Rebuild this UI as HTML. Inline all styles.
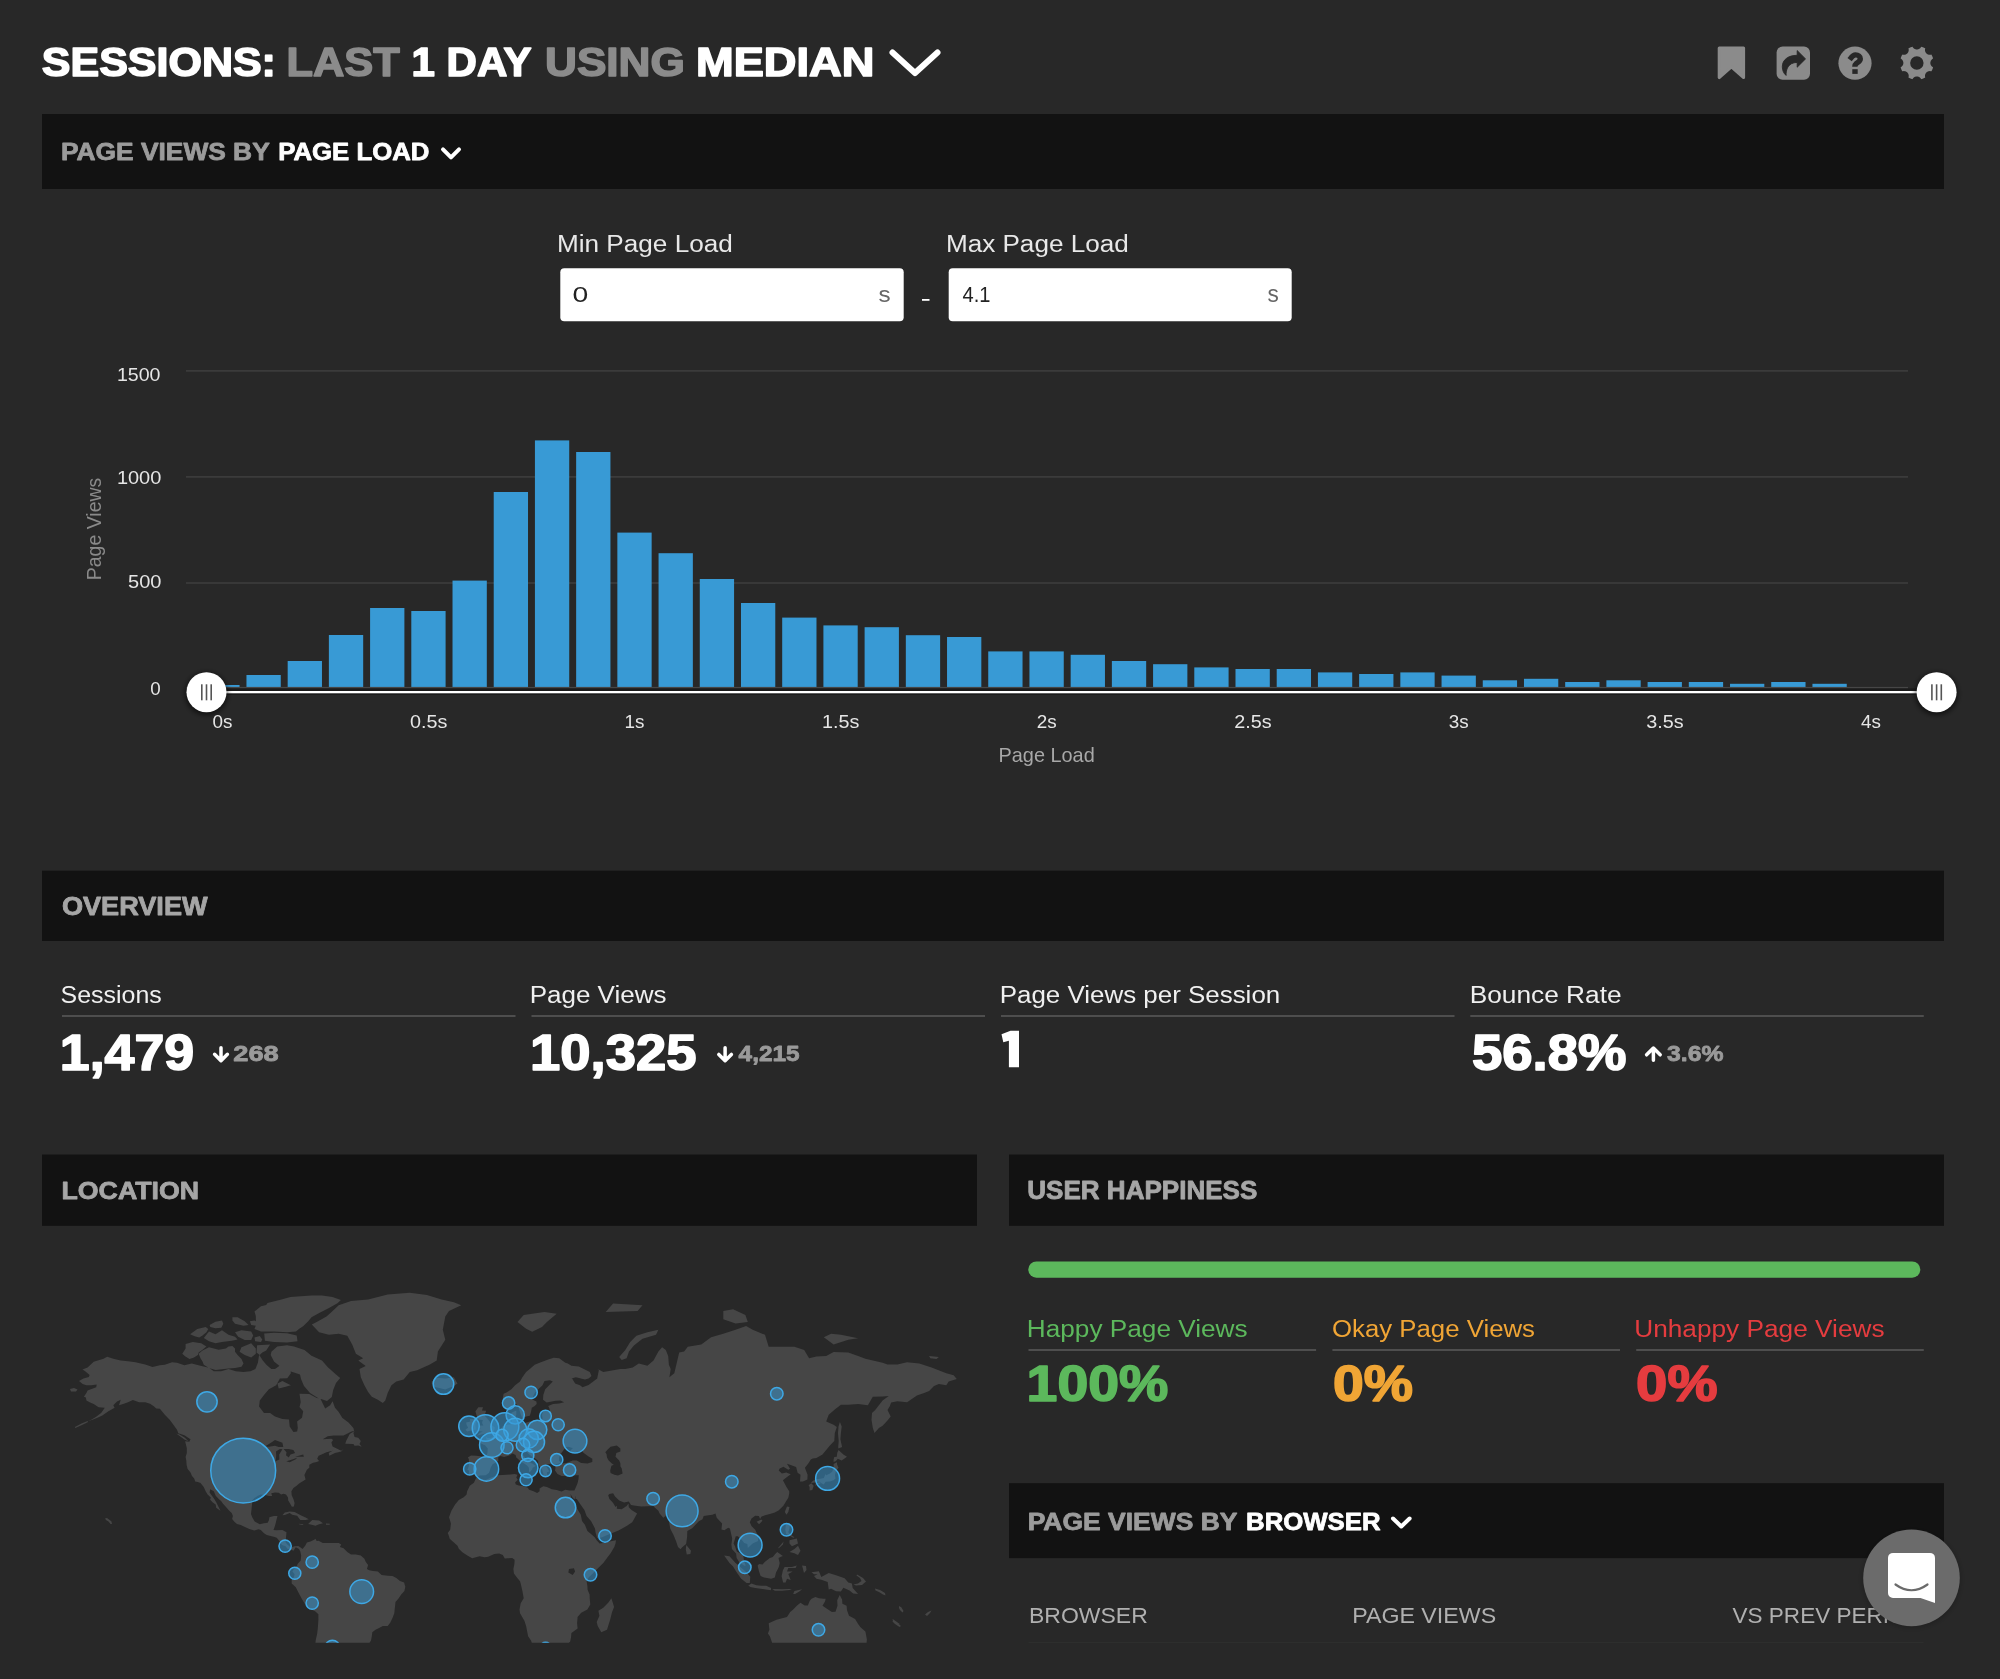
<!DOCTYPE html>
<html><head><meta charset="utf-8"><title>Sessions</title>
<style>
html,body{margin:0;padding:0;background:#282828;width:2000px;height:1679px;overflow:hidden;}
svg{display:block;will-change:transform;font-family:"Liberation Sans",sans-serif;}
</style></head><body>
<svg width="2000" height="1679" viewBox="0 0 2000 1679">
<defs>
<filter id="blur" x="-50%" y="-50%" width="200%" height="200%"><feGaussianBlur stdDeviation="2.5"/></filter>
<filter id="blur2" x="-50%" y="-50%" width="200%" height="200%"><feGaussianBlur stdDeviation="3"/></filter>
</defs>
<rect width="2000" height="1679" fill="#282828"/>
<polyline points="892.5,52.5 915,73 937.5,52.5" fill="none" stroke="#fff" stroke-width="6" stroke-linecap="round" stroke-linejoin="round"/>
<path d="M1719.2,47.9 H1743.6 V77.6 L1731.4,66.8 L1719.2,77.6 Z" fill="#8b8b8b" stroke="#8b8b8b" stroke-width="3" stroke-linejoin="round"/>
<rect x="1776.6" y="46.4" width="33.4" height="33.4" rx="6" fill="#8b8b8b"/>
<path d="M1805.5,58.9 L1797.2,50.6 L1797.2,55.3 C1788,55.3 1782.3,60 1782.3,66.8 C1782.3,70.3 1783.8,73.6 1786.1,75.4 C1785.8,70 1787.8,62.5 1797.2,62.4 L1797.2,67.2 Z" fill="#282828" stroke="#282828" stroke-width="0.9" stroke-linejoin="round"/>
<circle cx="1855" cy="63.2" r="16.6" fill="#8b8b8b"/>
<path d="M1849.6,59.7 C1851.2,57.6 1852.6,54.9 1855.6,54.9 C1858.4,54.9 1860.3,56.5 1860.3,58.7 C1860.3,61.3 1857.8,62.2 1856.3,63.5 C1855.3,64.4 1854.9,65.3 1854.9,66.2 V66.8" fill="none" stroke="#282828" stroke-width="5.4" stroke-linecap="butt" stroke-linejoin="round"/>
<rect x="1852.3" y="69.2" width="5.4" height="4.7" fill="#282828"/>
<path d="M1930.35,62.95 L1930.35,63.07 L1930.36,63.19 L1930.36,63.30 L1930.37,63.42 L1930.39,63.54 L1930.40,63.66 L1930.42,63.78 L1930.45,63.90 L1930.47,64.02 L1930.50,64.14 L1930.53,64.27 L1930.57,64.39 L1930.61,64.52 L1930.66,64.65 L1930.71,64.77 L1930.77,64.91 L1930.83,65.04 L1930.90,65.17 L1930.97,65.31 L1931.06,65.45 L1931.15,65.60 L1931.25,65.75 L1931.37,65.90 L1931.50,66.06 L1931.65,66.23 L1931.82,66.41 L1932.02,66.59 L1932.28,66.80 L1932.62,67.03 L1933.08,67.30 L1933.04,67.44 L1933.00,67.58 L1932.96,67.72 L1932.92,67.86 L1932.87,68.00 L1932.83,68.14 L1932.78,68.28 L1932.73,68.42 L1932.69,68.56 L1932.64,68.70 L1932.59,68.83 L1932.53,68.97 L1932.48,69.11 L1932.43,69.24 L1932.37,69.38 L1932.31,69.51 L1932.26,69.65 L1932.20,69.78 L1932.14,69.92 L1932.08,70.05 L1932.01,70.18 L1931.95,70.31 L1931.88,70.45 L1931.82,70.58 L1931.75,70.71 L1931.68,70.84 L1931.61,70.97 L1931.54,71.09 L1931.47,71.22 L1931.40,71.35 L1930.88,71.22 L1930.48,71.14 L1930.16,71.10 L1929.88,71.09 L1929.63,71.09 L1929.41,71.11 L1929.20,71.13 L1929.01,71.15 L1928.83,71.19 L1928.67,71.22 L1928.51,71.26 L1928.36,71.31 L1928.21,71.36 L1928.07,71.41 L1927.94,71.46 L1927.81,71.52 L1927.69,71.57 L1927.57,71.63 L1927.46,71.69 L1927.35,71.76 L1927.24,71.82 L1927.14,71.89 L1927.03,71.96 L1926.94,72.03 L1926.84,72.10 L1926.75,72.18 L1926.66,72.25 L1926.57,72.33 L1926.48,72.41 L1926.40,72.50 L1926.31,72.58 L1926.23,72.67 L1926.15,72.76 L1926.08,72.85 L1926.00,72.94 L1925.93,73.04 L1925.86,73.13 L1925.79,73.24 L1925.72,73.34 L1925.66,73.45 L1925.59,73.56 L1925.53,73.67 L1925.47,73.79 L1925.42,73.91 L1925.36,74.04 L1925.31,74.17 L1925.26,74.31 L1925.21,74.46 L1925.16,74.61 L1925.12,74.77 L1925.09,74.93 L1925.05,75.11 L1925.03,75.30 L1925.01,75.51 L1924.99,75.73 L1924.99,75.98 L1925.00,76.26 L1925.04,76.58 L1925.12,76.98 L1925.25,77.50 L1925.12,77.57 L1924.99,77.64 L1924.87,77.71 L1924.74,77.78 L1924.61,77.85 L1924.48,77.92 L1924.35,77.98 L1924.21,78.05 L1924.08,78.11 L1923.95,78.18 L1923.82,78.24 L1923.68,78.30 L1923.55,78.36 L1923.41,78.41 L1923.28,78.47 L1923.14,78.53 L1923.01,78.58 L1922.87,78.63 L1922.73,78.69 L1922.60,78.74 L1922.46,78.79 L1922.32,78.83 L1922.18,78.88 L1922.04,78.93 L1921.90,78.97 L1921.76,79.02 L1921.62,79.06 L1921.48,79.10 L1921.34,79.14 L1921.20,79.18 L1920.93,78.72 L1920.70,78.38 L1920.49,78.12 L1920.31,77.92 L1920.13,77.75 L1919.96,77.60 L1919.80,77.47 L1919.65,77.35 L1919.50,77.25 L1919.35,77.16 L1919.21,77.07 L1919.07,77.00 L1918.94,76.93 L1918.81,76.87 L1918.67,76.81 L1918.55,76.76 L1918.42,76.71 L1918.29,76.67 L1918.17,76.63 L1918.04,76.60 L1917.92,76.57 L1917.80,76.55 L1917.68,76.52 L1917.56,76.50 L1917.44,76.49 L1917.32,76.47 L1917.20,76.46 L1917.09,76.46 L1916.97,76.45 L1916.85,76.45 L1916.73,76.45 L1916.61,76.46 L1916.50,76.46 L1916.38,76.47 L1916.26,76.49 L1916.14,76.50 L1916.02,76.52 L1915.90,76.55 L1915.78,76.57 L1915.66,76.60 L1915.53,76.63 L1915.41,76.67 L1915.28,76.71 L1915.15,76.76 L1915.03,76.81 L1914.89,76.87 L1914.76,76.93 L1914.63,77.00 L1914.49,77.07 L1914.35,77.16 L1914.20,77.25 L1914.05,77.35 L1913.90,77.47 L1913.74,77.60 L1913.57,77.75 L1913.39,77.92 L1913.21,78.12 L1913.00,78.38 L1912.77,78.72 L1912.50,79.18 L1912.36,79.14 L1912.22,79.10 L1912.08,79.06 L1911.94,79.02 L1911.80,78.97 L1911.66,78.93 L1911.52,78.88 L1911.38,78.83 L1911.24,78.79 L1911.10,78.74 L1910.97,78.69 L1910.83,78.63 L1910.69,78.58 L1910.56,78.53 L1910.42,78.47 L1910.29,78.41 L1910.15,78.36 L1910.02,78.30 L1909.88,78.24 L1909.75,78.18 L1909.62,78.11 L1909.49,78.05 L1909.35,77.98 L1909.22,77.92 L1909.09,77.85 L1908.96,77.78 L1908.83,77.71 L1908.71,77.64 L1908.58,77.57 L1908.45,77.50 L1908.58,76.98 L1908.66,76.58 L1908.70,76.26 L1908.71,75.98 L1908.71,75.73 L1908.69,75.51 L1908.67,75.30 L1908.65,75.11 L1908.61,74.93 L1908.58,74.77 L1908.54,74.61 L1908.49,74.46 L1908.44,74.31 L1908.39,74.17 L1908.34,74.04 L1908.28,73.91 L1908.23,73.79 L1908.17,73.67 L1908.11,73.56 L1908.04,73.45 L1907.98,73.34 L1907.91,73.24 L1907.84,73.13 L1907.77,73.04 L1907.70,72.94 L1907.62,72.85 L1907.55,72.76 L1907.47,72.67 L1907.39,72.58 L1907.30,72.50 L1907.22,72.41 L1907.13,72.33 L1907.04,72.25 L1906.95,72.18 L1906.86,72.10 L1906.76,72.03 L1906.67,71.96 L1906.56,71.89 L1906.46,71.82 L1906.35,71.76 L1906.24,71.69 L1906.13,71.63 L1906.01,71.57 L1905.89,71.52 L1905.76,71.46 L1905.63,71.41 L1905.49,71.36 L1905.34,71.31 L1905.19,71.26 L1905.03,71.22 L1904.87,71.19 L1904.69,71.15 L1904.50,71.13 L1904.29,71.11 L1904.07,71.09 L1903.82,71.09 L1903.54,71.10 L1903.22,71.14 L1902.82,71.22 L1902.30,71.35 L1902.23,71.22 L1902.16,71.09 L1902.09,70.97 L1902.02,70.84 L1901.95,70.71 L1901.88,70.58 L1901.82,70.45 L1901.75,70.31 L1901.69,70.18 L1901.62,70.05 L1901.56,69.92 L1901.50,69.78 L1901.44,69.65 L1901.39,69.51 L1901.33,69.38 L1901.27,69.24 L1901.22,69.11 L1901.17,68.97 L1901.11,68.83 L1901.06,68.70 L1901.01,68.56 L1900.97,68.42 L1900.92,68.28 L1900.87,68.14 L1900.83,68.00 L1900.78,67.86 L1900.74,67.72 L1900.70,67.58 L1900.66,67.44 L1900.62,67.30 L1901.08,67.03 L1901.42,66.80 L1901.68,66.59 L1901.88,66.41 L1902.05,66.23 L1902.20,66.06 L1902.33,65.90 L1902.45,65.75 L1902.55,65.60 L1902.64,65.45 L1902.73,65.31 L1902.80,65.17 L1902.87,65.04 L1902.93,64.91 L1902.99,64.77 L1903.04,64.65 L1903.09,64.52 L1903.13,64.39 L1903.17,64.27 L1903.20,64.14 L1903.23,64.02 L1903.25,63.90 L1903.28,63.78 L1903.30,63.66 L1903.31,63.54 L1903.33,63.42 L1903.34,63.30 L1903.34,63.19 L1903.35,63.07 L1903.35,62.95 L1903.35,62.83 L1903.34,62.71 L1903.34,62.60 L1903.33,62.48 L1903.31,62.36 L1903.30,62.24 L1903.28,62.12 L1903.25,62.00 L1903.23,61.88 L1903.20,61.76 L1903.17,61.63 L1903.13,61.51 L1903.09,61.38 L1903.04,61.25 L1902.99,61.13 L1902.93,60.99 L1902.87,60.86 L1902.80,60.73 L1902.73,60.59 L1902.64,60.45 L1902.55,60.30 L1902.45,60.15 L1902.33,60.00 L1902.20,59.84 L1902.05,59.67 L1901.88,59.49 L1901.68,59.31 L1901.42,59.10 L1901.08,58.87 L1900.62,58.60 L1900.66,58.46 L1900.70,58.32 L1900.74,58.18 L1900.78,58.04 L1900.83,57.90 L1900.87,57.76 L1900.92,57.62 L1900.97,57.48 L1901.01,57.34 L1901.06,57.20 L1901.11,57.07 L1901.17,56.93 L1901.22,56.79 L1901.27,56.66 L1901.33,56.52 L1901.39,56.39 L1901.44,56.25 L1901.50,56.12 L1901.56,55.98 L1901.62,55.85 L1901.69,55.72 L1901.75,55.59 L1901.82,55.45 L1901.88,55.32 L1901.95,55.19 L1902.02,55.06 L1902.09,54.93 L1902.16,54.81 L1902.23,54.68 L1902.30,54.55 L1902.82,54.68 L1903.22,54.76 L1903.54,54.80 L1903.82,54.81 L1904.07,54.81 L1904.29,54.79 L1904.50,54.77 L1904.69,54.75 L1904.87,54.71 L1905.03,54.68 L1905.19,54.64 L1905.34,54.59 L1905.49,54.54 L1905.63,54.49 L1905.76,54.44 L1905.89,54.38 L1906.01,54.33 L1906.13,54.27 L1906.24,54.21 L1906.35,54.14 L1906.46,54.08 L1906.56,54.01 L1906.67,53.94 L1906.76,53.87 L1906.86,53.80 L1906.95,53.72 L1907.04,53.65 L1907.13,53.57 L1907.22,53.49 L1907.30,53.40 L1907.39,53.32 L1907.47,53.23 L1907.55,53.14 L1907.62,53.05 L1907.70,52.96 L1907.77,52.86 L1907.84,52.77 L1907.91,52.66 L1907.98,52.56 L1908.04,52.45 L1908.11,52.34 L1908.17,52.23 L1908.23,52.11 L1908.28,51.99 L1908.34,51.86 L1908.39,51.73 L1908.44,51.59 L1908.49,51.44 L1908.54,51.29 L1908.58,51.13 L1908.61,50.97 L1908.65,50.79 L1908.67,50.60 L1908.69,50.39 L1908.71,50.17 L1908.71,49.92 L1908.70,49.64 L1908.66,49.32 L1908.58,48.92 L1908.45,48.40 L1908.58,48.33 L1908.71,48.26 L1908.83,48.19 L1908.96,48.12 L1909.09,48.05 L1909.22,47.98 L1909.35,47.92 L1909.49,47.85 L1909.62,47.79 L1909.75,47.72 L1909.88,47.66 L1910.02,47.60 L1910.15,47.54 L1910.29,47.49 L1910.42,47.43 L1910.56,47.37 L1910.69,47.32 L1910.83,47.27 L1910.97,47.21 L1911.10,47.16 L1911.24,47.11 L1911.38,47.07 L1911.52,47.02 L1911.66,46.97 L1911.80,46.93 L1911.94,46.88 L1912.08,46.84 L1912.22,46.80 L1912.36,46.76 L1912.50,46.72 L1912.77,47.18 L1913.00,47.52 L1913.21,47.78 L1913.39,47.98 L1913.57,48.15 L1913.74,48.30 L1913.90,48.43 L1914.05,48.55 L1914.20,48.65 L1914.35,48.74 L1914.49,48.83 L1914.63,48.90 L1914.76,48.97 L1914.89,49.03 L1915.03,49.09 L1915.15,49.14 L1915.28,49.19 L1915.41,49.23 L1915.53,49.27 L1915.66,49.30 L1915.78,49.33 L1915.90,49.35 L1916.02,49.38 L1916.14,49.40 L1916.26,49.41 L1916.38,49.43 L1916.50,49.44 L1916.61,49.44 L1916.73,49.45 L1916.85,49.45 L1916.97,49.45 L1917.09,49.44 L1917.20,49.44 L1917.32,49.43 L1917.44,49.41 L1917.56,49.40 L1917.68,49.38 L1917.80,49.35 L1917.92,49.33 L1918.04,49.30 L1918.17,49.27 L1918.29,49.23 L1918.42,49.19 L1918.55,49.14 L1918.67,49.09 L1918.81,49.03 L1918.94,48.97 L1919.07,48.90 L1919.21,48.83 L1919.35,48.74 L1919.50,48.65 L1919.65,48.55 L1919.80,48.43 L1919.96,48.30 L1920.13,48.15 L1920.31,47.98 L1920.49,47.78 L1920.70,47.52 L1920.93,47.18 L1921.20,46.72 L1921.34,46.76 L1921.48,46.80 L1921.62,46.84 L1921.76,46.88 L1921.90,46.93 L1922.04,46.97 L1922.18,47.02 L1922.32,47.07 L1922.46,47.11 L1922.60,47.16 L1922.73,47.21 L1922.87,47.27 L1923.01,47.32 L1923.14,47.37 L1923.28,47.43 L1923.41,47.49 L1923.55,47.54 L1923.68,47.60 L1923.82,47.66 L1923.95,47.72 L1924.08,47.79 L1924.21,47.85 L1924.35,47.92 L1924.48,47.98 L1924.61,48.05 L1924.74,48.12 L1924.87,48.19 L1924.99,48.26 L1925.12,48.33 L1925.25,48.40 L1925.12,48.92 L1925.04,49.32 L1925.00,49.64 L1924.99,49.92 L1924.99,50.17 L1925.01,50.39 L1925.03,50.60 L1925.05,50.79 L1925.09,50.97 L1925.12,51.13 L1925.16,51.29 L1925.21,51.44 L1925.26,51.59 L1925.31,51.73 L1925.36,51.86 L1925.42,51.99 L1925.47,52.11 L1925.53,52.23 L1925.59,52.34 L1925.66,52.45 L1925.72,52.56 L1925.79,52.66 L1925.86,52.77 L1925.93,52.86 L1926.00,52.96 L1926.08,53.05 L1926.15,53.14 L1926.23,53.23 L1926.31,53.32 L1926.40,53.40 L1926.48,53.49 L1926.57,53.57 L1926.66,53.65 L1926.75,53.72 L1926.84,53.80 L1926.94,53.87 L1927.03,53.94 L1927.14,54.01 L1927.24,54.08 L1927.35,54.14 L1927.46,54.21 L1927.57,54.27 L1927.69,54.33 L1927.81,54.38 L1927.94,54.44 L1928.07,54.49 L1928.21,54.54 L1928.36,54.59 L1928.51,54.64 L1928.67,54.68 L1928.83,54.71 L1929.01,54.75 L1929.20,54.77 L1929.41,54.79 L1929.63,54.81 L1929.88,54.81 L1930.16,54.80 L1930.48,54.76 L1930.88,54.68 L1931.40,54.55 L1931.47,54.68 L1931.54,54.81 L1931.61,54.93 L1931.68,55.06 L1931.75,55.19 L1931.82,55.32 L1931.88,55.45 L1931.95,55.59 L1932.01,55.72 L1932.08,55.85 L1932.14,55.98 L1932.20,56.12 L1932.26,56.25 L1932.31,56.39 L1932.37,56.52 L1932.43,56.66 L1932.48,56.79 L1932.53,56.93 L1932.59,57.07 L1932.64,57.20 L1932.69,57.34 L1932.73,57.48 L1932.78,57.62 L1932.83,57.76 L1932.87,57.90 L1932.92,58.04 L1932.96,58.18 L1933.00,58.32 L1933.04,58.46 L1933.08,58.60 L1932.62,58.87 L1932.28,59.10 L1932.02,59.31 L1931.82,59.49 L1931.65,59.67 L1931.50,59.84 L1931.37,60.00 L1931.25,60.15 L1931.15,60.30 L1931.06,60.45 L1930.97,60.59 L1930.90,60.73 L1930.83,60.86 L1930.77,60.99 L1930.71,61.13 L1930.66,61.25 L1930.61,61.38 L1930.57,61.51 L1930.53,61.63 L1930.50,61.76 L1930.47,61.88 L1930.45,62.00 L1930.42,62.12 L1930.40,62.24 L1930.39,62.36 L1930.37,62.48 L1930.36,62.60 L1930.36,62.71 L1930.35,62.83Z M1923.55,62.95 a6.7,6.7 0 1 0 -13.4,0 a6.7,6.7 0 1 0 13.4,0z" fill="#8b8b8b" fill-rule="evenodd"/>
<rect x="42" y="114" width="1902" height="75" fill="#121212"/>
<polyline points="443,149.3 451,157.3 459,149.3" fill="none" stroke="#fff" stroke-width="4" stroke-linecap="round" stroke-linejoin="round"/>
<rect x="560.3" y="268.2" width="343.4" height="53.1" rx="4" fill="#fff"/>
<rect x="948.7" y="268.2" width="343" height="53.1" rx="4" fill="#fff"/>
<rect x="922" y="299" width="7.5" height="1.8" fill="#fff"/>
<rect x="186" y="370.3" width="1722" height="1.2" fill="#444"/>
<rect x="186" y="476.3" width="1722" height="1.2" fill="#444"/>
<rect x="186" y="582.4" width="1722" height="1.2" fill="#444"/>
<rect x="205.25" y="685.0" width="34.3" height="2.0" fill="#389ad5"/>
<rect x="246.46" y="675.0" width="34.3" height="12.0" fill="#389ad5"/>
<rect x="287.67" y="661.0" width="34.3" height="26.0" fill="#389ad5"/>
<rect x="328.88" y="635.0" width="34.3" height="52.0" fill="#389ad5"/>
<rect x="370.09" y="608.0" width="34.3" height="79.0" fill="#389ad5"/>
<rect x="411.30" y="611.0" width="34.3" height="76.0" fill="#389ad5"/>
<rect x="452.51" y="580.6" width="34.3" height="106.4" fill="#389ad5"/>
<rect x="493.72" y="492.0" width="34.3" height="195.0" fill="#389ad5"/>
<rect x="534.93" y="440.4" width="34.3" height="246.6" fill="#389ad5"/>
<rect x="576.14" y="452.0" width="34.3" height="235.0" fill="#389ad5"/>
<rect x="617.35" y="532.6" width="34.3" height="154.4" fill="#389ad5"/>
<rect x="658.56" y="553.2" width="34.3" height="133.8" fill="#389ad5"/>
<rect x="699.77" y="579.0" width="34.3" height="108.0" fill="#389ad5"/>
<rect x="740.98" y="603.0" width="34.3" height="84.0" fill="#389ad5"/>
<rect x="782.19" y="617.6" width="34.3" height="69.4" fill="#389ad5"/>
<rect x="823.40" y="625.4" width="34.3" height="61.6" fill="#389ad5"/>
<rect x="864.61" y="627.2" width="34.3" height="59.8" fill="#389ad5"/>
<rect x="905.82" y="635.2" width="34.3" height="51.8" fill="#389ad5"/>
<rect x="947.03" y="637.0" width="34.3" height="50.0" fill="#389ad5"/>
<rect x="988.24" y="651.4" width="34.3" height="35.6" fill="#389ad5"/>
<rect x="1029.45" y="651.4" width="34.3" height="35.6" fill="#389ad5"/>
<rect x="1070.66" y="654.8" width="34.3" height="32.2" fill="#389ad5"/>
<rect x="1111.87" y="661.0" width="34.3" height="26.0" fill="#389ad5"/>
<rect x="1153.08" y="664.2" width="34.3" height="22.8" fill="#389ad5"/>
<rect x="1194.29" y="667.4" width="34.3" height="19.6" fill="#389ad5"/>
<rect x="1235.50" y="669.0" width="34.3" height="18.0" fill="#389ad5"/>
<rect x="1276.71" y="669.0" width="34.3" height="18.0" fill="#389ad5"/>
<rect x="1317.92" y="672.4" width="34.3" height="14.6" fill="#389ad5"/>
<rect x="1359.13" y="674.0" width="34.3" height="13.0" fill="#389ad5"/>
<rect x="1400.34" y="672.4" width="34.3" height="14.6" fill="#389ad5"/>
<rect x="1441.55" y="675.6" width="34.3" height="11.4" fill="#389ad5"/>
<rect x="1482.76" y="680.3" width="34.3" height="6.7" fill="#389ad5"/>
<rect x="1523.97" y="678.8" width="34.3" height="8.2" fill="#389ad5"/>
<rect x="1565.18" y="682.0" width="34.3" height="5.0" fill="#389ad5"/>
<rect x="1606.39" y="680.3" width="34.3" height="6.7" fill="#389ad5"/>
<rect x="1647.60" y="682.0" width="34.3" height="5.0" fill="#389ad5"/>
<rect x="1688.81" y="682.0" width="34.3" height="5.0" fill="#389ad5"/>
<rect x="1730.02" y="683.8" width="34.3" height="3.2" fill="#389ad5"/>
<rect x="1771.23" y="682.0" width="34.3" height="5.0" fill="#389ad5"/>
<rect x="1812.44" y="683.8" width="34.3" height="3.2" fill="#389ad5"/>
<rect x="186" y="686.9" width="1722" height="1.5" fill="#464646"/>
<rect x="206" y="688.4" width="1730" height="6.5" fill="#1b1b1b"/>
<rect x="206" y="691" width="1730" height="2.3" fill="#fff"/>
<circle cx="206.5" cy="693.7" r="21.5" fill="rgba(0,0,0,0.55)" filter="url(#blur)"/>
<circle cx="206.5" cy="692.2" r="20" fill="#fff"/>
<rect x="201.00" y="684.3" width="1.6" height="16" fill="#555"/>
<rect x="205.70" y="684.3" width="1.6" height="16" fill="#555"/>
<rect x="210.40" y="684.3" width="1.6" height="16" fill="#555"/>
<circle cx="1936.6" cy="693.7" r="21.5" fill="rgba(0,0,0,0.55)" filter="url(#blur)"/>
<circle cx="1936.6" cy="692.2" r="20" fill="#fff"/>
<rect x="1931.10" y="684.3" width="1.6" height="16" fill="#555"/>
<rect x="1935.80" y="684.3" width="1.6" height="16" fill="#555"/>
<rect x="1940.50" y="684.3" width="1.6" height="16" fill="#555"/>
<text x="0" y="0" font-size="19.5" fill="#8a8a8a" transform="translate(101.4,529) rotate(-90)" text-anchor="middle">Page Views</text>
<text x="212.50" y="727.60" font-size="18.857" fill="#e6e6e6" textLength="19.92" lengthAdjust="spacingAndGlyphs">0s</text>
<text x="410.00" y="727.60" font-size="18.857" fill="#e6e6e6" textLength="37.38" lengthAdjust="spacingAndGlyphs">0.5s</text>
<text x="624.60" y="727.60" font-size="18.857" fill="#e6e6e6" textLength="19.92" lengthAdjust="spacingAndGlyphs">1s</text>
<text x="822.10" y="727.60" font-size="18.857" fill="#e6e6e6" textLength="37.38" lengthAdjust="spacingAndGlyphs">1.5s</text>
<text x="1036.70" y="727.60" font-size="18.857" fill="#e6e6e6" textLength="19.92" lengthAdjust="spacingAndGlyphs">2s</text>
<text x="1234.20" y="727.60" font-size="18.857" fill="#e6e6e6" textLength="37.38" lengthAdjust="spacingAndGlyphs">2.5s</text>
<text x="1448.80" y="727.60" font-size="18.857" fill="#e6e6e6" textLength="19.92" lengthAdjust="spacingAndGlyphs">3s</text>
<text x="1646.30" y="727.60" font-size="18.857" fill="#e6e6e6" textLength="37.38" lengthAdjust="spacingAndGlyphs">3.5s</text>
<text x="1860.90" y="727.60" font-size="18.857" fill="#e6e6e6" textLength="19.92" lengthAdjust="spacingAndGlyphs">4s</text>
<rect x="42" y="870.7" width="1902" height="70.3" fill="#121212"/>
<rect x="62" y="1015" width="453.5" height="2" fill="#4e4e4e"/>
<rect x="531.5" y="1015" width="453.5" height="2" fill="#4e4e4e"/>
<rect x="1001" y="1015" width="453.5" height="2" fill="#4e4e4e"/>
<rect x="1470.3" y="1015" width="453.5" height="2" fill="#4e4e4e"/>
<path d="M221.0,1047.7 V1060.2 M214.6,1054.3 L221.0,1060.7 L227.4,1054.3" fill="none" stroke="#fff" stroke-width="3.5" stroke-linecap="round" stroke-linejoin="round"/>
<path d="M725.1,1047.7 V1060.2 M718.8000000000001,1054.4 L725.1,1060.7 L731.4,1054.4" fill="none" stroke="#fff" stroke-width="3.5" stroke-linecap="round" stroke-linejoin="round"/>
<path d="M1653.4,1060.3 V1048.5 M1646.6000000000001,1054.8 L1653.4,1048.0 L1660.2,1054.8" fill="none" stroke="#fff" stroke-width="3.5" stroke-linecap="round" stroke-linejoin="round"/>
<rect x="42" y="1154.5" width="935" height="71.3" fill="#121212"/>
<clipPath id="mapclip"><rect x="42" y="1240" width="935" height="402.8"/></clipPath>
<g clip-path="url(#mapclip)">
<path d="M79.0,1381.0 L83.4,1378.6 L88.8,1376.9 L89.6,1374.9 L85.2,1371.2 L82.5,1369.5 L87.6,1367.4 L93.7,1361.8 L103.5,1358.7 L107.2,1356.7 L113.3,1358.7 L120.7,1360.5 L128.0,1361.3 L135.4,1362.2 L145.2,1364.4 L152.5,1367.0 L159.9,1365.2 L164.8,1364.8 L172.1,1362.2 L177.0,1362.7 L184.4,1365.2 L191.7,1363.5 L201.5,1366.1 L208.9,1367.8 L213.8,1371.2 L221.1,1371.2 L228.5,1369.1 L235.8,1371.2 L243.2,1372.0 L250.5,1371.2 L255.4,1369.1 L257.9,1362.7 L259.1,1354.7 L262.8,1360.5 L266.4,1364.8 L271.3,1369.1 L275.0,1369.1 L281.1,1364.8 L289.7,1366.1 L290.9,1373.3 L287.3,1378.2 L279.9,1378.6 L276.2,1385.3 L268.9,1389.2 L264.0,1394.9 L259.8,1400.5 L259.1,1406.6 L264.0,1412.9 L270.1,1412.9 L275.0,1416.4 L282.4,1419.1 L289.0,1419.5 L289.7,1426.5 L293.4,1432.0 L297.1,1431.4 L297.8,1428.1 L297.1,1421.5 L302.0,1417.8 L303.2,1411.2 L299.5,1407.0 L300.7,1402.3 L299.5,1393.8 L309.3,1394.1 L316.7,1397.9 L320.3,1398.6 L325.2,1408.4 L330.1,1405.2 L332.6,1401.2 L335.0,1407.7 L338.7,1411.9 L342.4,1418.1 L348.5,1422.5 L353.4,1428.1 L354.1,1430.7 L351.0,1431.7 L343.6,1435.5 L333.8,1435.5 L327.7,1436.2 L322.8,1439.3 L331.4,1438.7 L333.1,1439.9 L331.4,1442.4 L332.6,1446.4 L338.7,1449.5 L341.2,1450.7 L343.6,1448.9 L341.2,1451.6 L335.0,1453.1 L329.4,1455.8 L328.7,1453.1 L332.6,1450.7 L326.5,1452.2 L321.6,1454.6 L318.6,1455.8 L317.2,1458.7 L319.1,1461.1 L316.7,1461.9 L313.0,1462.8 L309.3,1464.8 L309.3,1467.7 L306.9,1469.7 L305.6,1472.5 L304.4,1475.0 L305.6,1479.5 L303.2,1481.1 L299.5,1483.3 L296.6,1485.8 L293.4,1487.9 L291.4,1491.2 L291.7,1495.2 L293.4,1499.1 L294.6,1503.0 L293.9,1506.4 L291.9,1506.7 L290.2,1503.8 L288.2,1500.4 L288.0,1497.5 L286.0,1494.4 L283.6,1493.8 L281.1,1494.4 L278.7,1492.8 L275.0,1492.5 L271.3,1493.3 L272.1,1496.0 L268.9,1496.0 L265.2,1494.9 L260.8,1494.6 L257.9,1495.7 L254.2,1498.3 L252.2,1500.4 L252.0,1504.6 L251.5,1509.5 L251.0,1513.9 L252.2,1517.2 L254.7,1521.5 L257.9,1523.3 L259.8,1524.3 L264.0,1523.3 L267.7,1522.8 L268.9,1520.2 L269.4,1517.2 L273.8,1515.9 L277.5,1515.9 L276.5,1519.7 L275.5,1524.0 L274.5,1527.3 L273.5,1530.0 L276.2,1530.3 L282.4,1530.0 L286.5,1532.3 L286.0,1537.2 L285.6,1542.2 L287.3,1544.6 L290.9,1547.6 L294.6,1546.3 L298.3,1546.1 L301.0,1547.8 L302.5,1549.0 L305.2,1545.8 L306.9,1542.6 L310.5,1541.4 L314.2,1539.7 L315.4,1538.7 L316.7,1540.9 L318.6,1540.7 L322.8,1543.1 L328.9,1543.1 L333.8,1543.1 L338.7,1542.9 L341.2,1544.6 L339.9,1547.1 L343.6,1548.3 L347.3,1552.0 L351.0,1554.4 L355.9,1554.6 L360.8,1555.6 L364.4,1558.8 L365.7,1561.7 L368.1,1564.9 L366.9,1569.0 L369.3,1570.2 L373.0,1570.9 L377.9,1571.4 L381.6,1575.1 L387.7,1575.8 L392.6,1576.1 L396.3,1578.0 L400.0,1580.9 L404.1,1582.4 L405.3,1586.8 L404.4,1590.9 L401.2,1594.6 L398.7,1598.3 L395.5,1602.0 L394.8,1608.2 L394.3,1613.2 L392.6,1617.8 L390.2,1622.8 L387.7,1625.9 L382.8,1625.9 L379.1,1628.0 L375.5,1629.8 L372.3,1632.3 L371.8,1636.3 L371.0,1640.5 L368.6,1644.2 L366.9,1648.2 L315.4,1648.2 L315.2,1645.5 L315.7,1640.2 L317.2,1633.6 L317.9,1627.2 L318.4,1619.5 L318.4,1614.2 L315.4,1611.5 L310.5,1609.0 L305.6,1605.2 L303.7,1602.0 L301.5,1598.3 L298.3,1592.2 L295.8,1587.3 L291.7,1583.6 L291.7,1579.5 L293.9,1577.3 L294.6,1574.3 L292.4,1571.4 L294.6,1567.8 L297.1,1565.8 L297.6,1564.1 L300.7,1560.5 L301.2,1555.6 L300.3,1551.5 L299.0,1549.0 L295.8,1547.3 L293.4,1550.7 L290.5,1549.3 L287.3,1548.8 L285.6,1546.3 L281.9,1544.9 L280.4,1542.2 L276.7,1537.7 L273.8,1536.7 L270.6,1536.0 L266.7,1535.0 L264.0,1533.3 L260.8,1530.0 L258.6,1529.3 L254.2,1530.5 L249.3,1529.0 L244.4,1526.8 L240.7,1525.0 L237.0,1524.0 L234.6,1522.0 L232.1,1519.0 L232.9,1515.9 L231.7,1513.1 L229.0,1510.6 L226.0,1506.9 L222.8,1503.6 L221.1,1501.0 L218.7,1499.1 L215.7,1495.7 L213.8,1491.2 L210.1,1489.3 L209.6,1492.5 L212.5,1496.5 L214.3,1499.1 L216.2,1502.3 L219.2,1508.2 L221.1,1512.1 L220.4,1510.8 L216.2,1507.7 L215.7,1504.4 L212.5,1502.3 L210.1,1499.6 L210.8,1497.5 L207.6,1494.4 L205.9,1491.7 L203.7,1487.1 L200.5,1483.0 L197.8,1482.0 L195.2,1481.4 L194.2,1478.6 L192.0,1475.9 L190.5,1472.5 L189.3,1471.1 L187.6,1469.1 L186.6,1465.1 L186.3,1460.5 L185.6,1457.0 L186.8,1453.1 L186.8,1448.0 L185.1,1441.2 L189.3,1441.8 L190.5,1439.3 L184.4,1435.2 L178.3,1433.3 L177.0,1429.7 L172.1,1423.1 L169.7,1419.8 L164.8,1414.7 L159.9,1408.7 L156.2,1408.4 L153.8,1406.2 L150.1,1403.7 L145.2,1402.3 L139.1,1402.3 L132.9,1400.1 L128.0,1402.3 L123.1,1404.1 L119.0,1405.2 L120.7,1399.7 L117.0,1401.6 L113.3,1405.2 L114.6,1407.7 L108.4,1411.2 L102.3,1415.4 L97.4,1417.8 L92.5,1419.8 L87.1,1421.5 L91.3,1419.8 L96.2,1416.7 L101.1,1412.9 L104.8,1407.7 L98.6,1407.3 L93.7,1404.1 L90.1,1402.6 L86.4,1400.5 L85.9,1397.5 L83.9,1396.8 L86.4,1393.0 L87.6,1390.4 L96.2,1387.3 L96.7,1384.5 L91.3,1385.3 L86.4,1385.3 L82.7,1384.1Z M311.8,1324.5 L316.7,1321.9 L326.5,1316.5 L332.6,1311.0 L338.7,1305.2 L351.0,1301.1 L368.1,1299.4 L387.7,1294.5 L409.8,1292.7 L426.9,1295.1 L441.6,1299.4 L453.9,1302.3 L461.2,1305.2 L449.0,1311.0 L445.3,1316.5 L442.8,1329.7 L445.3,1339.7 L437.9,1351.5 L436.7,1360.5 L429.4,1364.8 L417.1,1370.3 L409.8,1372.0 L403.6,1379.4 L396.3,1381.4 L391.4,1385.3 L387.7,1393.0 L385.3,1400.5 L382.8,1403.0 L377.9,1399.7 L371.8,1396.8 L368.1,1391.9 L364.4,1385.3 L360.8,1377.3 L359.5,1369.1 L365.7,1366.1 L358.3,1360.5 L363.2,1358.3 L355.9,1353.8 L352.2,1344.5 L347.3,1335.8 L338.7,1333.8 L328.9,1334.8 L319.1,1332.3Z M431.8,1381.4 L436.7,1377.8 L445.3,1378.6 L453.9,1377.3 L456.3,1381.4 L457.5,1383.4 L453.9,1386.1 L445.3,1389.6 L439.2,1388.0 L435.5,1387.3 L431.8,1383.7Z M476.9,1477.5 L475.2,1475.3 L472.2,1474.2 L468.8,1474.8 L469.0,1470.5 L467.3,1470.0 L468.8,1466.3 L469.0,1461.9 L468.8,1459.0 L467.8,1457.5 L471.0,1455.5 L476.4,1455.8 L482.0,1456.4 L486.2,1456.4 L487.4,1453.1 L487.7,1448.6 L485.2,1445.5 L479.6,1442.7 L479.1,1440.9 L483.3,1439.9 L486.7,1440.3 L485.9,1437.1 L487.7,1438.1 L491.1,1437.7 L494.3,1435.5 L495.0,1433.0 L497.9,1432.0 L500.4,1430.1 L502.4,1426.5 L506.5,1424.8 L510.2,1424.5 L511.9,1423.1 L511.7,1418.1 L510.4,1414.7 L511.7,1412.6 L516.3,1410.5 L516.3,1414.7 L515.1,1418.1 L517.3,1421.5 L520.0,1422.5 L524.9,1423.1 L529.8,1421.5 L535.9,1420.5 L539.1,1421.5 L542.5,1419.1 L542.0,1414.7 L543.3,1411.2 L545.7,1410.8 L550.1,1412.2 L549.4,1408.4 L548.2,1405.9 L553.1,1404.1 L559.2,1403.4 L564.1,1402.3 L560.4,1400.5 L555.5,1400.8 L546.7,1402.6 L543.0,1399.7 L543.3,1394.9 L545.2,1389.2 L550.6,1383.7 L552.8,1381.4 L549.9,1380.2 L544.5,1381.0 L542.5,1385.3 L538.4,1389.2 L534.7,1393.0 L533.0,1396.8 L532.7,1399.7 L536.4,1401.6 L536.7,1404.1 L534.7,1405.9 L531.8,1407.7 L531.0,1411.9 L529.8,1415.7 L526.1,1416.4 L522.4,1418.4 L521.2,1415.4 L519.5,1410.5 L518.0,1406.2 L516.3,1404.1 L513.9,1405.9 L510.2,1409.1 L506.5,1409.1 L504.3,1406.2 L503.3,1402.3 L502.8,1397.9 L503.6,1393.8 L506.5,1392.6 L511.4,1389.2 L515.1,1385.3 L520.0,1381.4 L522.4,1377.3 L526.1,1372.0 L529.8,1369.1 L534.7,1364.8 L539.6,1362.7 L548.2,1359.6 L553.8,1357.8 L559.2,1358.3 L565.3,1362.7 L567.8,1363.5 L571.4,1365.7 L578.8,1366.5 L589.8,1372.0 L591.5,1376.1 L588.6,1378.6 L584.9,1379.4 L575.9,1377.3 L571.4,1378.6 L570.2,1375.3 L575.1,1383.4 L580.0,1385.3 L582.5,1387.3 L588.6,1384.9 L597.2,1378.6 L598.9,1369.9 L597.2,1368.7 L603.3,1372.0 L620.4,1369.1 L625.3,1369.1 L632.7,1367.4 L638.8,1363.5 L647.4,1365.7 L653.5,1360.5 L658.4,1351.5 L662.1,1347.3 L665.8,1350.1 L668.2,1356.0 L668.9,1364.8 L670.7,1369.1 L669.4,1377.3 L674.3,1373.3 L679.2,1352.4 L684.1,1351.5 L687.8,1346.8 L701.3,1344.5 L711.1,1337.2 L723.3,1333.8 L735.6,1329.7 L746.1,1326.1 L752.7,1329.7 L765.0,1334.8 L768.7,1346.8 L779.7,1346.8 L794.4,1346.8 L804.2,1350.1 L809.1,1358.3 L816.4,1356.5 L826.2,1356.0 L833.6,1351.9 L848.3,1352.4 L858.1,1356.0 L865.4,1358.7 L882.6,1362.7 L887.5,1364.4 L897.3,1364.4 L907.1,1362.2 L919.3,1363.5 L931.6,1367.4 L946.3,1373.3 L953.6,1375.3 L956.8,1379.0 L948.7,1381.4 L946.3,1385.3 L938.9,1384.1 L934.0,1386.1 L929.1,1391.1 L924.2,1393.0 L916.9,1395.6 L907.1,1402.3 L897.3,1401.2 L891.1,1402.6 L889.9,1405.9 L887.5,1410.1 L890.7,1416.4 L887.5,1420.5 L882.6,1425.8 L878.9,1428.1 L874.5,1433.0 L872.8,1428.1 L871.5,1419.8 L872.0,1412.9 L875.2,1410.1 L882.6,1400.5 L888.7,1396.0 L882.6,1396.4 L872.8,1396.8 L867.9,1405.2 L858.1,1404.1 L848.3,1404.8 L840.9,1404.8 L834.8,1409.4 L828.7,1414.7 L826.2,1421.5 L833.6,1424.8 L836.8,1427.1 L834.8,1433.0 L834.3,1440.9 L829.9,1445.5 L822.5,1454.6 L816.4,1458.1 L812.7,1458.4 L810.8,1459.6 L808.3,1463.4 L804.9,1467.7 L807.6,1474.8 L807.4,1479.5 L802.9,1481.4 L800.0,1481.4 L800.5,1474.8 L797.6,1472.8 L796.1,1467.1 L790.0,1464.8 L787.0,1463.7 L790.0,1468.8 L788.3,1469.7 L783.4,1466.8 L779.7,1468.5 L778.7,1470.5 L781.9,1473.4 L786.3,1472.5 L790.7,1474.2 L787.0,1477.0 L782.9,1480.3 L786.5,1487.1 L789.2,1491.2 L789.2,1493.8 L788.3,1497.8 L785.8,1501.7 L783.4,1505.7 L778.5,1510.6 L774.8,1512.6 L769.9,1513.9 L765.0,1515.2 L761.3,1516.7 L760.1,1519.0 L758.9,1515.9 L755.2,1515.7 L751.5,1518.5 L749.8,1522.3 L751.5,1526.0 L755.2,1529.8 L758.1,1536.0 L758.1,1540.9 L752.7,1543.4 L747.8,1548.0 L747.3,1544.1 L744.2,1543.1 L741.2,1539.2 L737.8,1536.2 L735.8,1536.2 L733.6,1543.4 L735.1,1546.6 L736.8,1551.5 L740.0,1553.2 L743.4,1556.3 L744.2,1561.7 L745.9,1565.6 L744.2,1565.8 L739.3,1562.2 L736.6,1558.1 L736.1,1553.4 L731.9,1549.0 L731.4,1544.6 L732.2,1538.5 L729.9,1528.5 L728.2,1527.8 L724.3,1530.3 L721.4,1529.5 L722.1,1523.5 L719.7,1521.0 L716.7,1517.7 L715.5,1513.6 L712.3,1514.7 L708.6,1515.2 L703.7,1515.9 L702.5,1519.2 L698.8,1521.2 L692.2,1528.3 L687.3,1531.0 L687.1,1537.2 L686.1,1543.9 L682.2,1547.3 L680.5,1549.3 L678.0,1547.1 L676.0,1540.9 L673.4,1534.7 L670.4,1529.0 L668.9,1521.8 L668.7,1517.2 L668.2,1513.9 L663.3,1517.7 L659.6,1513.6 L658.4,1510.8 L654.7,1507.5 L653.5,1505.9 L647.4,1506.2 L641.3,1506.4 L633.9,1505.4 L631.0,1504.9 L628.8,1501.5 L624.1,1502.5 L619.2,1500.4 L615.0,1496.5 L613.1,1493.3 L609.4,1494.1 L608.2,1495.2 L609.4,1499.1 L612.1,1501.7 L613.6,1503.8 L615.5,1506.9 L617.0,1505.7 L616.8,1508.8 L621.7,1509.3 L626.6,1505.9 L628.5,1503.6 L628.8,1507.2 L631.5,1510.0 L637.1,1513.4 L634.2,1518.7 L632.2,1522.3 L626.6,1526.0 L618.5,1530.5 L611.1,1533.5 L600.8,1537.7 L597.2,1538.0 L595.5,1532.3 L595.0,1528.5 L591.0,1521.0 L586.6,1515.9 L584.4,1510.0 L580.5,1504.4 L576.8,1499.1 L575.4,1498.9 L576.1,1495.2 L574.4,1490.4 L576.3,1486.3 L577.6,1483.0 L578.5,1478.9 L578.8,1475.3 L575.1,1475.3 L570.2,1477.3 L565.3,1476.1 L561.6,1475.9 L557.5,1473.9 L555.0,1470.5 L555.5,1467.7 L554.8,1465.4 L558.0,1465.1 L561.6,1463.4 L566.5,1463.1 L572.7,1460.5 L576.8,1460.5 L581.2,1463.1 L587.4,1463.4 L592.3,1461.9 L592.3,1458.7 L588.6,1456.4 L583.7,1453.1 L582.0,1450.7 L577.6,1451.6 L572.7,1453.1 L570.2,1450.4 L572.9,1448.3 L568.5,1446.7 L565.8,1447.0 L563.1,1450.7 L560.9,1453.7 L559.2,1457.0 L558.9,1460.5 L561.2,1462.8 L554.8,1464.8 L553.1,1463.7 L549.4,1464.0 L546.9,1464.8 L545.7,1465.7 L547.7,1468.5 L549.4,1471.4 L546.9,1472.2 L547.4,1476.1 L545.5,1476.4 L543.8,1475.3 L542.8,1472.5 L542.0,1469.7 L540.1,1467.4 L538.4,1464.5 L538.1,1461.1 L535.9,1459.0 L532.2,1456.7 L528.6,1454.0 L526.1,1451.0 L524.2,1449.8 L520.7,1450.7 L520.7,1453.7 L523.9,1456.1 L526.9,1460.5 L529.8,1462.2 L532.7,1463.7 L535.9,1466.0 L532.7,1467.7 L532.2,1469.4 L531.0,1470.8 L529.8,1472.2 L529.1,1471.4 L528.8,1467.7 L527.3,1465.7 L524.9,1464.0 L521.5,1461.9 L518.3,1459.3 L516.3,1457.5 L515.6,1454.9 L512.6,1453.4 L510.2,1454.9 L507.7,1456.1 L504.1,1457.0 L500.4,1456.1 L498.2,1457.5 L498.4,1460.8 L495.5,1462.8 L492.6,1464.2 L490.6,1467.7 L490.1,1470.0 L488.9,1473.1 L485.7,1475.3 L479.6,1475.6Z M476.1,1478.1 L485.7,1480.0 L490.6,1477.8 L497.9,1475.3 L506.5,1474.8 L514.6,1473.9 L517.5,1474.8 L516.3,1477.5 L517.8,1479.8 L515.1,1482.5 L515.8,1484.4 L518.8,1485.5 L522.4,1486.0 L527.8,1487.7 L529.1,1489.8 L533.5,1491.2 L537.1,1493.0 L539.6,1491.2 L539.6,1488.5 L543.3,1486.3 L546.9,1486.9 L551.8,1489.3 L556.7,1490.1 L561.6,1491.4 L565.3,1489.8 L569.7,1490.4 L574.4,1490.4 L576.1,1495.2 L574.6,1499.6 L572.7,1497.8 L570.5,1494.1 L571.4,1499.1 L573.9,1503.0 L577.6,1509.5 L580.8,1514.7 L582.0,1521.0 L584.9,1524.8 L587.4,1531.0 L591.0,1534.0 L594.7,1537.2 L596.7,1540.2 L599.6,1543.6 L603.3,1542.9 L608.2,1541.7 L616.0,1540.2 L615.5,1543.6 L614.3,1547.1 L610.6,1553.2 L607.0,1558.1 L603.3,1562.9 L597.2,1569.0 L592.3,1573.9 L588.6,1577.5 L586.6,1581.2 L587.4,1586.0 L587.6,1589.7 L589.6,1594.6 L589.8,1599.5 L590.3,1604.5 L587.4,1609.5 L581.2,1612.7 L577.6,1617.0 L577.1,1623.3 L577.6,1628.5 L571.4,1632.9 L571.0,1637.6 L570.2,1641.5 L566.5,1645.5 L564.1,1649.5 L532.2,1649.5 L532.2,1644.2 L531.0,1640.5 L528.1,1636.3 L526.1,1625.9 L524.4,1620.8 L520.0,1613.2 L519.5,1609.5 L520.7,1603.3 L523.7,1598.3 L522.4,1590.9 L520.7,1583.6 L520.0,1581.2 L517.5,1578.2 L513.9,1573.4 L513.4,1569.0 L514.4,1564.1 L514.6,1559.8 L512.2,1558.1 L507.7,1558.3 L504.8,1558.5 L502.8,1554.9 L499.2,1553.4 L494.3,1553.9 L488.2,1556.8 L484.5,1557.3 L479.6,1556.3 L472.2,1558.3 L467.3,1555.6 L462.4,1552.2 L458.8,1548.8 L457.5,1545.8 L453.9,1542.6 L449.7,1538.7 L448.5,1534.7 L447.7,1533.0 L450.2,1529.8 L450.9,1523.5 L450.2,1521.0 L449.0,1517.2 L451.4,1510.8 L455.1,1504.4 L458.8,1499.9 L463.7,1497.3 L466.6,1494.4 L467.1,1491.2 L469.8,1485.8 L473.9,1482.8Z M611.4,1598.3 L614.1,1607.0 L612.1,1612.0 L610.2,1619.5 L607.0,1629.8 L601.3,1632.3 L597.7,1625.9 L596.7,1622.1 L599.4,1615.7 L598.4,1610.7 L603.3,1607.7 L608.2,1602.8Z M686.3,1545.1 L691.0,1550.7 L690.3,1553.9 L686.8,1554.4 L685.8,1549.5Z M476.6,1435.8 L483.3,1433.9 L493.8,1432.3 L494.8,1427.4 L491.3,1424.8 L490.1,1422.1 L486.7,1417.8 L484.5,1415.4 L486.2,1410.8 L482.0,1410.5 L483.0,1407.3 L478.4,1407.3 L475.4,1411.2 L476.9,1416.4 L478.6,1419.8 L482.8,1420.1 L482.0,1423.1 L483.3,1425.5 L479.3,1425.5 L480.3,1428.8 L477.9,1430.7 L482.8,1431.7 L480.3,1432.6Z M475.9,1429.4 L475.4,1425.1 L476.1,1421.1 L474.7,1419.1 L469.8,1419.1 L470.3,1421.5 L466.1,1422.5 L466.6,1425.1 L468.1,1427.8 L465.4,1429.7 L467.3,1431.4 L471.0,1430.4Z M811.3,1483.0 L815.2,1482.5 L818.9,1481.4 L821.8,1483.6 L823.8,1484.4 L825.7,1481.7 L829.9,1481.4 L833.6,1480.3 L835.5,1478.4 L835.0,1475.3 L836.0,1471.1 L838.5,1467.7 L837.2,1464.8 L836.8,1462.2 L833.6,1464.0 L833.6,1467.7 L832.3,1471.4 L829.9,1473.4 L826.2,1475.3 L825.5,1473.9 L823.8,1478.1 L818.9,1478.9 L815.2,1479.2 L811.5,1482.0Z M833.6,1461.9 L836.0,1461.1 L837.7,1458.7 L841.7,1460.5 L847.0,1456.7 L843.4,1454.6 L838.5,1450.1 L837.2,1453.1 L836.8,1456.7 L834.3,1457.0 L833.6,1459.6Z M808.6,1485.2 L811.3,1483.3 L813.7,1485.8 L812.3,1490.1 L809.6,1490.6 L809.6,1487.1Z M815.2,1485.8 L820.6,1483.6 L819.4,1482.2 L815.9,1483.0Z M838.5,1448.6 L842.1,1447.0 L840.4,1439.3 L840.9,1433.0 L841.7,1426.5 L839.9,1422.1 L838.5,1426.5 L838.0,1433.0 L838.7,1440.9 L838.2,1447.0Z M784.8,1512.1 L787.0,1506.4 L789.5,1506.9 L788.3,1512.1 L786.5,1514.7Z M756.6,1521.8 L761.3,1519.5 L762.5,1520.7 L759.1,1524.3Z M786.0,1523.5 L790.0,1523.5 L789.5,1528.5 L788.3,1532.3 L790.7,1534.7 L794.4,1537.2 L793.2,1537.7 L789.0,1535.2 L786.0,1534.0 L785.3,1529.8Z M789.5,1552.0 L794.4,1549.0 L798.0,1545.8 L800.5,1550.7 L798.0,1554.9 L794.4,1553.2Z M789.5,1540.2 L796.8,1538.5 L798.0,1543.4 L791.9,1546.3 L789.5,1543.4Z M777.7,1548.5 L783.6,1541.4 L782.9,1544.6 L779.7,1547.6Z M757.6,1565.4 L758.9,1570.9 L760.6,1576.1 L764.2,1577.5 L771.1,1578.7 L774.8,1577.5 L776.0,1572.6 L778.5,1567.8 L779.2,1565.4 L779.7,1562.9 L778.5,1558.1 L780.9,1556.8 L782.9,1556.1 L777.2,1552.0 L774.8,1554.4 L772.8,1557.1 L769.9,1558.1 L765.0,1561.7 L762.5,1564.6 L759.1,1564.1Z M724.1,1555.4 L729.5,1556.3 L735.6,1562.9 L744.2,1570.2 L746.6,1572.6 L750.3,1576.8 L749.8,1583.1 L746.6,1583.1 L741.2,1578.7 L736.8,1572.6 L733.1,1566.6 L729.5,1562.9Z M748.3,1585.6 L751.5,1583.6 L756.4,1585.3 L761.3,1585.8 L766.2,1585.8 L771.1,1588.0 L770.9,1590.2 L762.5,1589.0 L755.2,1588.0 L750.3,1587.0Z M781.6,1576.3 L782.9,1570.2 L784.6,1567.1 L791.9,1567.1 L796.8,1565.4 L795.6,1568.0 L788.3,1568.0 L787.0,1571.4 L792.7,1571.4 L788.3,1573.9 L790.7,1579.9 L787.0,1578.7 L785.6,1582.6 L783.1,1582.4Z M811.5,1572.2 L818.9,1571.2 L821.3,1577.0 L828.7,1573.1 L836.0,1575.3 L844.6,1578.2 L848.3,1582.4 L851.9,1583.6 L852.7,1588.0 L858.1,1594.1 L853.2,1593.6 L849.5,1590.4 L843.4,1587.8 L840.9,1591.4 L836.0,1591.2 L831.1,1588.7 L828.7,1589.5 L827.7,1581.9 L821.3,1579.7 L816.4,1578.7 L814.0,1576.1 L817.6,1574.3 L814.0,1574.3Z M794.4,1590.9 L802.2,1589.2 L799.3,1591.4 L795.1,1593.9 L793.2,1594.1Z M772.3,1589.0 L782.1,1589.2 L789.5,1589.0 L791.9,1589.7 L782.1,1590.7 L774.8,1590.7Z M768.7,1623.3 L769.9,1622.8 L776.5,1619.8 L782.1,1618.3 L787.0,1617.0 L790.2,1612.0 L793.2,1609.5 L796.8,1605.7 L800.5,1602.8 L804.7,1605.5 L807.8,1605.5 L809.8,1600.8 L811.5,1598.8 L815.4,1597.1 L818.9,1598.3 L823.5,1598.8 L825.7,1598.8 L825.0,1601.5 L822.5,1605.7 L826.2,1608.2 L831.9,1612.0 L835.5,1611.7 L837.5,1605.7 L837.2,1600.3 L839.7,1595.1 L842.1,1599.5 L842.4,1603.8 L846.6,1605.7 L847.0,1610.2 L849.0,1615.7 L855.1,1619.0 L858.1,1624.1 L860.5,1627.2 L865.4,1631.6 L866.9,1639.4 L866.2,1646.8 L772.3,1646.8 L772.1,1642.8 L769.9,1636.3 L767.9,1633.6 L769.4,1629.8Z M278.7,1388.4 L284.8,1386.9 L290.9,1385.3 L287.3,1383.4 L282.4,1381.0 L277.5,1383.4Z M361.7,1446.7 L359.5,1444.0 L360.8,1440.9 L358.3,1437.7 L354.6,1437.1 L353.4,1433.0 L354.6,1431.0 L349.7,1433.9 L346.1,1440.9 L345.3,1443.7 L353.4,1444.0 L354.6,1445.8 L358.3,1445.5Z M282.4,1515.2 L284.8,1512.4 L289.7,1511.6 L294.6,1512.1 L300.7,1515.2 L305.6,1517.5 L308.8,1519.2 L305.6,1520.0 L300.3,1520.0 L297.1,1515.7 L292.2,1514.7 L289.7,1513.1 L284.8,1514.9Z M308.1,1524.0 L312.3,1520.0 L319.1,1520.5 L323.0,1523.3 L319.1,1524.3 L315.4,1525.8 L311.8,1524.8Z M298.8,1523.8 L303.7,1524.3 L302.5,1525.0 L299.0,1524.3Z M326.0,1523.5 L329.9,1523.8 L329.6,1524.8 L326.0,1524.8Z M188.5,1441.2 L184.4,1439.6 L176.3,1433.6 L179.5,1434.6 L184.9,1437.7Z M619.2,1356.9 L625.3,1350.1 L630.2,1342.1 L636.4,1335.8 L647.4,1332.3 L658.4,1329.7 L656.0,1334.8 L642.5,1338.7 L633.9,1345.4 L629.0,1351.5 L626.6,1358.3 L621.7,1360.0Z M517.5,1321.9 L523.7,1314.9 L532.2,1313.7 L544.5,1312.1 L556.7,1313.7 L546.9,1321.9 L542.0,1327.1 L532.2,1331.7 L526.1,1328.7Z M605.7,1312.1 L637.6,1311.0 L642.5,1305.2 L613.1,1303.5Z M723.3,1319.2 L735.6,1323.5 L747.8,1321.9 L745.4,1314.9 L733.1,1309.3 L723.3,1311.0Z M823.8,1337.2 L833.6,1344.5 L848.3,1339.7 L858.1,1338.2 L840.9,1334.8 L831.1,1333.8Z M929.1,1356.0 L938.9,1356.9 L936.5,1359.1 L930.3,1358.3Z M892.4,1618.8 L899.7,1624.1 L898.5,1624.6 L892.9,1620.3Z M87.6,1421.1 L81.5,1423.5 L74.9,1427.1 L75.4,1428.1 L82.0,1425.1 L88.1,1422.1Z M857,1574.5 L863,1578 L866,1581.5 L862,1585 L856,1585.5 L853.5,1584.5 L858,1583.5 L861.5,1581 L860,1578 L856.5,1575.5Z M875,1588.5 L880,1590 L885,1593 L885.5,1595.5 L883,1594.5 L879,1592 L875.5,1590.5Z M899,1606 L901.5,1607.5 L903.5,1611 L902.5,1612.5 L900,1610 L899,1608Z M893,1620 L897,1622.5 L901,1626 L899.5,1627 L895,1624 L892.5,1621.5Z M925,1614.5 L928,1612 L931.5,1610.5 L930,1613 L927,1616Z M802,1565.5 L806,1566 L806.5,1570 L804,1573 L803,1569Z M185.6,1343.9 L192.8,1342 L201.2,1343.3 L206.4,1346.5 L202.5,1349.8 L198.6,1352.4 L197.9,1355 L194,1357.6 L189.5,1358.9 L185,1356.3 L182.3,1353.7 L185.6,1348.5Z M209,1347.2 L218.7,1349.8 L225.9,1348.5 L228.5,1346.5 L232.4,1345.9 L235,1348.5 L235,1351.7 L237.6,1355 L241.5,1358.9 L243.5,1363.5 L241.5,1366.7 L235,1368 L228.5,1368.6 L222,1369.3 L215.5,1369.9 L209,1368 L203.8,1364.7 L202.5,1361.5 L200.5,1358.2 L198.6,1353.7 L202.5,1350.4Z M190.1,1334.2 L197.3,1329 L205.7,1327 L208.3,1329 L206.4,1332.2 L202.5,1335.5 L199.2,1337.4 L194.7,1336.2Z M203.8,1338.1 L209,1331.6 L215.5,1334.2 L222,1330.3 L228.5,1334.8 L235,1336.8 L237.6,1339.4 L231.7,1340.7 L222,1342 L215.5,1343.3 L209,1341.3Z M209.6,1325.1 L215.5,1321.8 L222,1320.5 L223.3,1323.8 L221.3,1327.7 L215.5,1328.3 L210.3,1327Z M232.4,1317.3 L237.6,1317.3 L244.7,1321.2 L248.6,1325.1 L243.5,1325.7 L235,1323.8 L232.4,1320.5Z M235,1332.2 L241.5,1330.3 L251.2,1331.6 L253.2,1335.5 L251.2,1340 L244.7,1340 L238.2,1336.8Z M249.9,1321.2 L254.5,1320.5 L259,1323.1 L256.5,1325.7 L251.2,1325.1Z M264.2,1333.5 L274,1332.8 L287,1333.2 L296.7,1335.5 L297.5,1341.3 L287,1342.6 L274,1342 L264.9,1340.7Z M254.5,1337.4 L259.7,1336.1 L262.3,1339.4 L261,1342 L255.1,1341.3Z M254.5,1311.4 L261,1306.2 L266.2,1305 L267.5,1303 L280.5,1299.7 L290.5,1296.9 L311.5,1295.5 L322,1295.5 L332.5,1296.9 L340.9,1300 L337.4,1303.2 L329,1308.1 L319.2,1313 L311.5,1317.2 L308,1321.4 L303.1,1326.3 L298.9,1329.1 L296,1331.5 L287,1332.2 L274,1331.6 L261,1331.6 L254.5,1329 L256,1325 L255.8,1316Z M241.5,1347.2 L251.2,1343.3 L255.8,1348.5 L255.8,1353.7 L251.2,1357.6 L244.7,1355 L239.6,1351.7Z M257.1,1345.2 L270.1,1344.6 L266.2,1350.4 L262.3,1352.4 L259.7,1355 L256.5,1352.4Z M271.4,1351.7 L277.2,1346.5 L287,1345.2 L294,1346.6 L304.5,1350.1 L311.5,1355.7 L322,1360.6 L327.6,1366.9 L336,1374.6 L340.2,1378.1 L336,1383 L333.2,1390 L331.8,1397 L327,1401 L318,1398 L310,1393 L304,1386 L301,1379 L300,1374.5 L290.2,1371.3 L280.5,1366.7 L274,1361.5 L270.7,1355Z M105,1518.5 L107,1518 L109,1519.5 L111.5,1521.5 L112,1524 L110.5,1524 L108.5,1521.5 L106,1520Z M70,1389 L74,1388 L77.5,1389.5 L76,1391.5 L71,1391.5Z" fill="#464646"/>
<path d="M610.6,1446.7 L616.8,1445.5 L620.4,1448.6 L620.4,1451.6 L616.3,1453.1 L615.5,1456.7 L619.2,1460.5 L620.4,1463.4 L620.4,1466.3 L621.7,1468.5 L622.6,1473.6 L618.0,1475.6 L614.3,1474.8 L610.6,1473.1 L610.2,1470.5 L611.4,1465.7 L613.8,1464.8 L611.9,1463.4 L608.7,1460.5 L607.0,1457.5 L606.5,1454.0 L605.3,1452.2 L607.7,1449.5Z M265.0,1446.4 L271.3,1442.4 L275.0,1439.9 L282.4,1442.7 L283.3,1447.0 L278.7,1447.0 L275.0,1445.8 L268.9,1446.7Z M275.5,1461.3 L276.2,1456.1 L276.0,1451.6 L279.9,1448.9 L282.4,1449.2 L279.2,1454.6 L279.4,1459.6Z M283.6,1448.9 L288.5,1448.9 L293.4,1450.1 L295.1,1453.1 L290.5,1454.6 L288.7,1457.5 L286.0,1455.2 L286.5,1452.2Z M286.3,1461.3 L292.2,1459.6 L297.1,1457.8 L295.8,1459.3 L289.7,1462.2Z M295.1,1456.7 L303.2,1454.6 L303.9,1456.7 L298.3,1456.7Z M569.0,1569.0 L573.9,1568.3 L575.1,1571.4 L572.7,1575.1 L568.3,1572.6Z" fill="#282828"/>
<g fill="#389ad5" fill-opacity="0.5" stroke="#3ea8e5" stroke-width="1.5"><circle cx="243.2" cy="1470.6" r="32.45"/><circle cx="207" cy="1401.8" r="10.15"/><circle cx="443.5" cy="1384.1" r="10.25"/><circle cx="285.1" cy="1546.1" r="6.15"/><circle cx="312.2" cy="1562.2" r="6.15"/><circle cx="294.8" cy="1573.2" r="6.05"/><circle cx="361.7" cy="1591.6" r="11.85"/><circle cx="312.2" cy="1603.1" r="6.15"/><circle cx="332.4" cy="1647.4" r="7.25"/><circle cx="545.6" cy="1648.5" r="6.15"/><circle cx="531.1" cy="1392.4" r="6.15"/><circle cx="508.6" cy="1403" r="6.15"/><circle cx="515.2" cy="1414.9" r="9.15"/><circle cx="469" cy="1426.3" r="10.25"/><circle cx="485.5" cy="1428" r="13.25"/><circle cx="504.9" cy="1426.8" r="13.95"/><circle cx="515.2" cy="1429.8" r="11.45"/><circle cx="491.8" cy="1445" r="12.25"/><circle cx="507" cy="1447.8" r="6.05"/><circle cx="502.1" cy="1435.2" r="6.05"/><circle cx="537.2" cy="1429.8" r="9.65"/><circle cx="528.7" cy="1438.5" r="9.65"/><circle cx="534" cy="1441.9" r="10.55"/><circle cx="523" cy="1445" r="6.75"/><circle cx="545.5" cy="1416" r="5.85"/><circle cx="558.2" cy="1424.8" r="6.05"/><circle cx="575" cy="1441.1" r="11.85"/><circle cx="527.8" cy="1455.4" r="6.05"/><circle cx="556.7" cy="1459.7" r="6.15"/><circle cx="528.2" cy="1468" r="9.75"/><circle cx="545.5" cy="1470.9" r="5.75"/><circle cx="569.6" cy="1470" r="6.15"/><circle cx="486.4" cy="1468.9" r="12.25"/><circle cx="469.7" cy="1468.9" r="6.15"/><circle cx="526.1" cy="1479.7" r="6.05"/><circle cx="776.8" cy="1393.7" r="6.25"/><circle cx="565.5" cy="1507.6" r="10.25"/><circle cx="653.1" cy="1498.7" r="6.25"/><circle cx="682.1" cy="1510.9" r="15.95"/><circle cx="731.8" cy="1481.7" r="6.25"/><circle cx="827.6" cy="1478.4" r="11.95"/><circle cx="605" cy="1535.9" r="6.25"/><circle cx="590.5" cy="1574.8" r="6.25"/><circle cx="750.1" cy="1545.1" r="11.95"/><circle cx="786.5" cy="1529.8" r="6.25"/><circle cx="744.8" cy="1567.3" r="6.25"/><circle cx="818.5" cy="1629.8" r="6.25"/></g>
</g>
<rect x="1009" y="1154.5" width="935" height="71.3" fill="#121212"/>
<rect x="1028.3" y="1261.5" width="892" height="16.2" rx="8.1" fill="#5cb85c"/>
<rect x="1028.5" y="1349" width="287.6" height="2" fill="#4e4e4e"/>
<rect x="1332.4" y="1349" width="287.6" height="2" fill="#4e4e4e"/>
<rect x="1636.2" y="1349" width="287.6" height="2" fill="#4e4e4e"/>
<rect x="1009" y="1483.2" width="935" height="74.9" fill="#121212"/>
<polyline points="1393,1518.5 1401.3,1526.5 1409.6,1518.5" fill="none" stroke="#fff" stroke-width="4" stroke-linecap="round" stroke-linejoin="round"/>
<text x="41.80" y="76.20" font-size="41.424" fill="#ffffff" font-weight="bold" stroke="#ffffff" stroke-width="1.6" stroke-linejoin="round" textLength="234.14" lengthAdjust="spacingAndGlyphs">SESSIONS:</text>
<text x="286.50" y="76.20" font-size="41.424" fill="#8b8b8b" font-weight="bold" stroke="#8b8b8b" stroke-width="1.6" stroke-linejoin="round" textLength="113.23" lengthAdjust="spacingAndGlyphs">LAST</text>
<text x="411.60" y="76.20" font-size="41.424" fill="#ffffff" font-weight="bold" stroke="#ffffff" stroke-width="1.6" stroke-linejoin="round" textLength="119.86" lengthAdjust="spacingAndGlyphs">1 DAY</text>
<text x="545.00" y="76.20" font-size="41.424" fill="#8b8b8b" font-weight="bold" stroke="#8b8b8b" stroke-width="1.6" stroke-linejoin="round" textLength="139.88" lengthAdjust="spacingAndGlyphs">USING</text>
<text x="696.00" y="76.20" font-size="41.424" fill="#ffffff" font-weight="bold" stroke="#ffffff" stroke-width="1.6" stroke-linejoin="round" textLength="178.32" lengthAdjust="spacingAndGlyphs">MEDIAN</text>
<text x="61.00" y="160.30" font-size="24.419" fill="#9b9b9b" font-weight="bold" stroke="#9b9b9b" stroke-width="0.8" stroke-linejoin="round" textLength="208.70" lengthAdjust="spacingAndGlyphs">PAGE VIEWS BY</text>
<text x="278.20" y="160.30" font-size="24.419" fill="#ffffff" font-weight="bold" stroke="#ffffff" stroke-width="0.8" stroke-linejoin="round" textLength="151.25" lengthAdjust="spacingAndGlyphs">PAGE LOAD</text>
<text x="557.00" y="252.40" font-size="24.128" fill="#e8e8e8" textLength="175.80" lengthAdjust="spacingAndGlyphs">Min Page Load</text>
<text x="945.90" y="252.40" font-size="24.128" fill="#e8e8e8" textLength="182.88" lengthAdjust="spacingAndGlyphs">Max Page Load</text>
<text x="572.60" y="301.50" font-size="21.610" fill="#222222" textLength="15.75" lengthAdjust="spacingAndGlyphs">0</text>
<text x="878.60" y="301.70" font-size="22.862" fill="#666666" textLength="12.14" lengthAdjust="spacingAndGlyphs">s</text>
<text x="962.50" y="302.00" font-size="22.965" fill="#222222" textLength="27.94" lengthAdjust="spacingAndGlyphs">4.1</text>
<text x="1267.50" y="302.00" font-size="23.420" fill="#666666" textLength="11.30" lengthAdjust="spacingAndGlyphs">s</text>
<text x="116.90" y="380.50" font-size="18.714" fill="#e6e6e6" textLength="43.58" lengthAdjust="spacingAndGlyphs">1500</text>
<text x="116.90" y="484.10" font-size="17.714" fill="#e6e6e6" textLength="44.46" lengthAdjust="spacingAndGlyphs">1000</text>
<text x="128.00" y="588.40" font-size="17.714" fill="#e6e6e6" textLength="33.40" lengthAdjust="spacingAndGlyphs">500</text>
<text x="150.20" y="695.20" font-size="18.362" fill="#e6e6e6" textLength="10.45" lengthAdjust="spacingAndGlyphs">0</text>
<text x="998.50" y="762.00" font-size="20.349" fill="#a8a8a8" textLength="96.26" lengthAdjust="spacingAndGlyphs">Page Load</text>
<text x="61.90" y="914.70" font-size="25.291" fill="#a6a6a6" font-weight="bold" stroke="#a6a6a6" stroke-width="0.8" stroke-linejoin="round" textLength="145.73" lengthAdjust="spacingAndGlyphs">OVERVIEW</text>
<text x="60.60" y="1002.60" font-size="24.128" fill="#f0f0f0" textLength="101.20" lengthAdjust="spacingAndGlyphs">Sessions</text>
<text x="529.70" y="1002.60" font-size="24.128" fill="#f0f0f0" textLength="136.78" lengthAdjust="spacingAndGlyphs">Page Views</text>
<text x="999.70" y="1002.60" font-size="24.128" fill="#f0f0f0" textLength="280.54" lengthAdjust="spacingAndGlyphs">Page Views per Session</text>
<text x="1469.70" y="1002.60" font-size="24.128" fill="#f0f0f0" textLength="151.95" lengthAdjust="spacingAndGlyphs">Bounce Rate</text>
<text x="59.80" y="1069.80" font-size="49.565" fill="#ffffff" font-weight="bold" stroke="#ffffff" stroke-width="1.6" stroke-linejoin="round" textLength="134.40" lengthAdjust="spacingAndGlyphs">1,479</text>
<text x="530.00" y="1069.80" font-size="49.565" fill="#ffffff" font-weight="bold" stroke="#ffffff" stroke-width="1.6" stroke-linejoin="round" textLength="166.46" lengthAdjust="spacingAndGlyphs">10,325</text>
<text x="1471.90" y="1070.20" font-size="49.929" fill="#ffffff" font-weight="bold" stroke="#ffffff" stroke-width="1.6" stroke-linejoin="round" textLength="154.54" lengthAdjust="spacingAndGlyphs">56.8%</text>
<text x="233.30" y="1061.30" font-size="22.553" fill="#9a9a9a" font-weight="bold" stroke="#9a9a9a" stroke-width="0.8" stroke-linejoin="round" textLength="45.47" lengthAdjust="spacingAndGlyphs">268</text>
<text x="738.60" y="1061.30" font-size="22.553" fill="#9a9a9a" font-weight="bold" stroke="#9a9a9a" stroke-width="0.8" stroke-linejoin="round" textLength="61.09" lengthAdjust="spacingAndGlyphs">4,215</text>
<text x="1667.10" y="1061.30" font-size="22.553" fill="#9a9a9a" font-weight="bold" stroke="#9a9a9a" stroke-width="0.8" stroke-linejoin="round" textLength="56.46" lengthAdjust="spacingAndGlyphs">3.6%</text>
<text x="61.50" y="1198.60" font-size="24.709" fill="#a6a6a6" font-weight="bold" stroke="#a6a6a6" stroke-width="0.8" stroke-linejoin="round" textLength="137.48" lengthAdjust="spacingAndGlyphs">LOCATION</text>
<text x="1027.25" y="1198.80" font-size="25.000" fill="#a6a6a6" font-weight="bold" stroke="#a6a6a6" stroke-width="0.8" stroke-linejoin="round" textLength="230.08" lengthAdjust="spacingAndGlyphs">USER HAPPINESS</text>
<text x="1026.80" y="1336.80" font-size="23.983" fill="#5cb85c" textLength="220.82" lengthAdjust="spacingAndGlyphs">Happy Page Views</text>
<text x="1332.00" y="1336.80" font-size="23.983" fill="#f0a535" textLength="203.01" lengthAdjust="spacingAndGlyphs">Okay Page Views</text>
<text x="1634.20" y="1336.80" font-size="23.983" fill="#e53c3f" textLength="250.36" lengthAdjust="spacingAndGlyphs">Unhappy Page Views</text>
<text x="1026.60" y="1400.90" font-size="49.787" fill="#5cb85c" font-weight="bold" stroke="#5cb85c" stroke-width="1.6" stroke-linejoin="round" textLength="141.73" lengthAdjust="spacingAndGlyphs">100%</text>
<text x="1333.00" y="1400.90" font-size="49.787" fill="#f0a535" font-weight="bold" stroke="#f0a535" stroke-width="1.6" stroke-linejoin="round" textLength="80.00" lengthAdjust="spacingAndGlyphs">0%</text>
<text x="1636.10" y="1400.90" font-size="49.787" fill="#e53c3f" font-weight="bold" stroke="#e53c3f" stroke-width="1.6" stroke-linejoin="round" textLength="81.45" lengthAdjust="spacingAndGlyphs">0%</text>
<text x="1027.70" y="1529.60" font-size="24.273" fill="#9b9b9b" font-weight="bold" stroke="#9b9b9b" stroke-width="0.8" stroke-linejoin="round" textLength="209.69" lengthAdjust="spacingAndGlyphs">PAGE VIEWS BY</text>
<text x="1246.10" y="1529.60" font-size="24.273" fill="#ffffff" font-weight="bold" stroke="#ffffff" stroke-width="0.8" stroke-linejoin="round" textLength="134.48" lengthAdjust="spacingAndGlyphs">BROWSER</text>
<text x="1029.00" y="1622.80" font-size="21.948" fill="#b0b0b0" textLength="118.77" lengthAdjust="spacingAndGlyphs">BROWSER</text>
<text x="1352.20" y="1622.80" font-size="21.948" fill="#b0b0b0" textLength="143.92" lengthAdjust="spacingAndGlyphs">PAGE VIEWS</text>
<text x="1732.50" y="1622.80" font-size="21.948" fill="#b0b0b0" textLength="190.43" lengthAdjust="spacingAndGlyphs">VS PREV PERIOD</text>
<path d="M1001.5,1034.3 L1010.5,1030.8 L1019,1030.8 L1019,1067.2 L1008.9,1067.2 L1008.9,1040.8 L1003.3,1042.2 Z" fill="#fff"/>
<rect x="1028.5" y="1642" width="895" height="1" fill="#2d2e2d"/>
<circle cx="1911.5" cy="1579" r="48.3" fill="rgba(0,0,0,0.25)" filter="url(#blur2)"/>
<circle cx="1911.5" cy="1577.9" r="48.3" fill="#6b6b6b"/>
<path d="M1893,1552.9 H1930 a5,5 0 0 1 5,5 V1603 L1920.5,1598 H1893 a5,5 0 0 1 -5,-5 V1557.9 a5,5 0 0 1 5,-5z" fill="#fff"/>
<path d="M1895.5,1584.5 Q1911.5,1596 1927.5,1584.5" fill="none" stroke="#6b6b6b" stroke-width="2.2" stroke-linecap="round"/>
</svg>
</body></html>
